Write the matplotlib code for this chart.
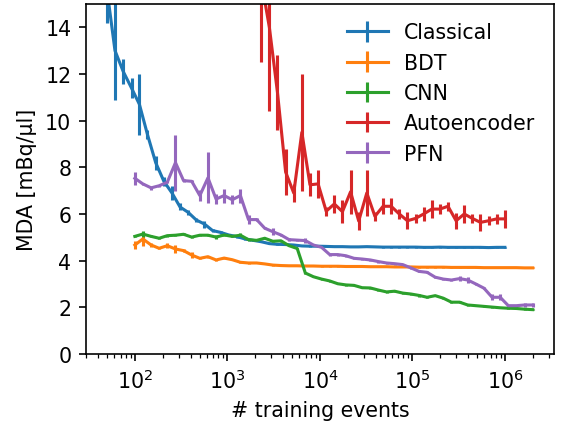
"""MDA versus number of training events for the five classifiers."""

from __future__ import annotations

import matplotlib

matplotlib.use("Agg")
import matplotlib.pyplot as plt
from matplotlib.axes import Axes
from matplotlib.figure import Figure

DPI: int = 148
FIG_SIZE: tuple[float, float] = (561 / DPI, 423 / DPI)

# training-set sizes (two grids: up to 1e6 and up to 2e6 events)
EVENTS_1M: list[float] = [
    50, 61, 75, 92, 112, 137, 168, 206, 252, 308,
    377, 462, 565, 692, 847, 1036, 1268, 1553, 1900, 2326,
    2846, 3484, 4264, 5220, 6389, 7820, 9572, 11710, 14340, 17550,
    21480, 26300, 32180, 39390, 48210, 59000, 72220, 88390, 108200, 132400,
    162100, 198400, 242800, 297200, 363800, 445200, 545000, 667000, 816500, 1000000,
]
EVENTS_2M: list[float] = [
    100, 122, 150, 183, 224, 275, 336, 412, 504, 617,
    755, 924, 1130, 1384, 1693, 2073, 2537, 3105, 3800, 4651,
    5693, 6968, 8529, 10440, 12780, 15640, 19140, 23430, 28680, 35100,
    42970, 52590, 64370, 78780, 96430, 118000, 144400, 176800, 216400, 264800,
    324200, 396800, 485600, 594400, 727500, 890400, 1090000, 1334000, 1633000, 2000000,
]

CLASSICAL_MDA: list[float] = [
    15.6, 13.0, 12.1, 11.4, 10.7, 9.4, 8.2, 7.4, 6.9, 6.3,
    6.07, 5.74, 5.57, 5.29, 5.21, 5.10, 5.03, 4.93, 4.87, 4.81,
    4.73, 4.70, 4.69, 4.67, 4.63, 4.62, 4.62, 4.61, 4.60, 4.60,
    4.59, 4.59, 4.60, 4.59, 4.58, 4.58, 4.58, 4.58, 4.58, 4.57,
    4.57, 4.58, 4.57, 4.57, 4.57, 4.57, 4.57, 4.56, 4.57, 4.57,
]
CLASSICAL_ERR: list[float] = [
    1.4, 2.1, 0.55, 0.43, 1.3, 0.2, 0.3, 0.2, 0.32, 0.15,
    0.12, 0.08, 0.15, 0.08, 0.06, 0.05, 0.05, 0.04, 0.04, 0.03,
    0.03, 0.03, 0.02, 0.02, 0.02, 0.02, 0.02, 0.02, 0.02, 0.02,
    0.02, 0.02, 0.02, 0.02, 0.02, 0.02, 0.02, 0.02, 0.02, 0.02,
    0.02, 0.02, 0.02, 0.02, 0.02, 0.02, 0.02, 0.02, 0.02, 0.02,
]

BDT_MDA: list[float] = [
    4.67, 4.93, 4.67, 4.53, 4.64, 4.50, 4.43, 4.24, 4.10, 4.17,
    4.03, 4.11, 4.04, 3.93, 3.90, 3.90, 3.86, 3.81, 3.79, 3.78,
    3.78, 3.77, 3.77, 3.76, 3.76, 3.76, 3.75, 3.75, 3.75, 3.74,
    3.74, 3.74, 3.73, 3.73, 3.73, 3.72, 3.72, 3.72, 3.72, 3.71,
    3.71, 3.71, 3.71, 3.70, 3.70, 3.70, 3.70, 3.70, 3.69, 3.69,
]
BDT_ERR: list[float] = [
    0.18, 0.29, 0.1, 0.05, 0.1, 0.18, 0.05, 0.12, 0.04, 0.04,
    0.03, 0.03, 0.03, 0.03, 0.03, 0.02, 0.02, 0.02, 0.02, 0.02,
    0.02, 0.02, 0.02, 0.02, 0.02, 0.02, 0.02, 0.02, 0.02, 0.02,
    0.02, 0.02, 0.02, 0.02, 0.02, 0.02, 0.02, 0.02, 0.02, 0.02,
    0.02, 0.02, 0.02, 0.02, 0.02, 0.02, 0.02, 0.02, 0.02, 0.02,
]

CNN_MDA: list[float] = [
    5.04, 5.14, 5.04, 4.96, 5.07, 5.09, 5.13, 5.01, 5.09, 5.09,
    5.01, 5.10, 5.04, 5.09, 4.90, 4.87, 4.96, 4.83, 4.85, 4.64,
    4.52, 3.47, 3.31, 3.21, 3.13, 3.01, 2.96, 2.94, 2.84, 2.83,
    2.74, 2.66, 2.69, 2.61, 2.57, 2.51, 2.43, 2.50, 2.39, 2.22,
    2.22, 2.10, 2.07, 2.04, 2.01, 1.98, 1.96, 1.95, 1.92, 1.90,
]
CNN_ERR: list[float] = [
    0.04, 0.12, 0.04, 0.04, 0.04, 0.04, 0.04, 0.04, 0.04, 0.04,
    0.08, 0.04, 0.04, 0.1, 0.04, 0.03, 0.03, 0.03, 0.03, 0.03,
    0.03, 0.03, 0.03, 0.03, 0.03, 0.03, 0.03, 0.03, 0.03, 0.03,
    0.03, 0.03, 0.03, 0.03, 0.03, 0.08, 0.03, 0.03, 0.03, 0.03,
    0.03, 0.03, 0.03, 0.03, 0.03, 0.03, 0.03, 0.03, 0.03, 0.03,
]

# the autoencoder only comes into view from ~2300 events
AUTOENCODER_EVENTS: list[float] = EVENTS_1M[19:]
AUTOENCODER_MDA: list[float] = [
    16.0, 14.0, 11.2, 7.8, 6.9, 9.5, 7.25, 7.29, 6.12, 6.43,
    6.1, 6.95, 5.7, 6.9, 5.9, 6.33, 6.33, 6.0, 5.71, 5.81,
    6.0, 6.21, 6.21, 6.33, 5.71, 6.0, 5.81, 5.64, 5.71, 5.79, 5.79,
]
AUTOENCODER_ERR: list[float] = [
    3.5, 3.6, 1.6, 1.0, 0.4, 2.5, 0.5, 0.6, 0.2, 0.4,
    0.5, 0.95, 0.4, 1.0, 0.2, 0.35, 0.35, 0.2, 0.36, 0.2,
    0.3, 0.4, 0.2, 0.2, 0.35, 0.4, 0.2, 0.35, 0.2, 0.2, 0.4,
]

PFN_MDA: list[float] = [
    7.53, 7.29, 7.12, 7.21, 7.36, 8.2, 7.43, 7.40, 6.79, 7.55,
    6.64, 6.79, 6.61, 6.79, 5.76, 5.76, 5.39, 5.24, 5.10, 4.90,
    4.88, 4.86, 4.67, 4.57, 4.26, 4.26, 4.21, 4.10, 4.07, 4.03,
    3.96, 3.90, 3.87, 3.83, 3.69, 3.54, 3.50, 3.29, 3.21, 3.17,
    3.23, 3.17, 3.00, 2.82, 2.43, 2.43, 2.07, 2.07, 2.10, 2.10,
]
PFN_ERR: list[float] = [
    0.27, 0.05, 0.1, 0.05, 0.05, 1.2, 0.05, 0.05, 0.25, 1.1,
    0.2, 0.3, 0.2, 0.3, 0.2, 0.05, 0.05, 0.15, 0.05, 0.05,
    0.05, 0.1, 0.05, 0.04, 0.04, 0.04, 0.04, 0.04, 0.04, 0.04,
    0.04, 0.04, 0.04, 0.04, 0.04, 0.04, 0.04, 0.04, 0.04, 0.04,
    0.12, 0.12, 0.04, 0.04, 0.12, 0.12, 0.04, 0.04, 0.1, 0.1,
]


def render() -> None:
    fig: Figure
    ax: Axes
    fig, ax = plt.subplots(figsize=FIG_SIZE, dpi=DPI)
    fig.subplots_adjust(left=0.1528, right=0.9875, bottom=0.1608, top=0.9882)

    ax.errorbar(EVENTS_1M, CLASSICAL_MDA, yerr=CLASSICAL_ERR, label="Classical")
    ax.errorbar(EVENTS_2M, BDT_MDA, yerr=BDT_ERR, label="BDT")
    ax.errorbar(EVENTS_2M, CNN_MDA, yerr=CNN_ERR, label="CNN")
    ax.errorbar(AUTOENCODER_EVENTS, AUTOENCODER_MDA, yerr=AUTOENCODER_ERR, label="Autoencoder")
    ax.errorbar(EVENTS_2M, PFN_MDA, yerr=PFN_ERR, label="PFN")

    ax.set_xscale("log")
    ax.set_ylim(0, 15)
    ax.set_xlabel("# training events")
    ax.set_ylabel("MDA [mBq/µl]")
    ax.legend(loc="upper right", frameon=False)

    fig.savefig("out.png", dpi=DPI)
    plt.close(fig)


if __name__ == "__main__":
    render()
